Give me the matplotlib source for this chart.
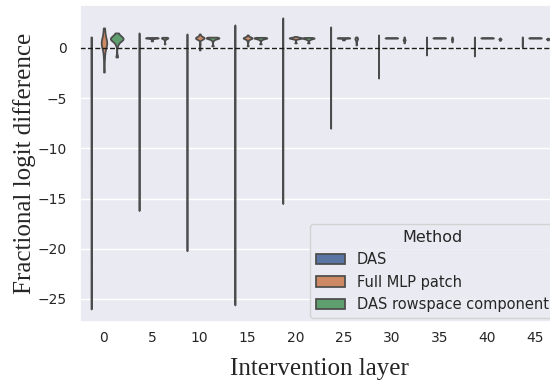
import numpy as np
import pandas as pd
import matplotlib
matplotlib.use("Agg")
import matplotlib.pyplot as plt
import seaborn as sns

layers = [0, 5, 10, 15, 20, 25, 30, 35, 40, 45]
methods = ["DAS", "Full MLP patch", "DAS rowspace component"]

# samples per layer
das = [
    [1.1, 0.8, 0.3, -1.5, -4.0, -8.0, -12.5, -17.0, -21.5, -26.0],
    [1.5, 1.0, 0.2, -1.5, -4.0, -7.0, -10.0, -13.0, -16.2],
    [1.4, 0.9, 0.0, -2.5, -6.0, -10.0, -14.0, -17.5, -20.2],
    [2.3, 1.2, 0.0, -3.0, -8.0, -13.0, -18.0, -22.0, -25.6],
    [3.0, 1.5, 0.0, -2.5, -5.5, -9.0, -12.5, -15.5],
    [2.1, 1.2, 0.2, -1.5, -3.5, -6.0, -8.0],
    [1.3, 0.9, 0.3, -0.5, -1.5, -2.3, -3.0],
    [1.1, 0.8, 0.4, 0.0, -0.4, -0.7],
    [1.1, 0.8, 0.4, 0.0, -0.4, -0.8],
    [1.1, 0.9, 0.6, 0.4, 0.1],
]
mlp = [
    [-2.4, -1.0, -0.3, 0.1, 0.3, 0.4, 0.5, 0.6, 0.8, 1.0, 1.4, 2.0],
    [0.7, 0.9, 0.96, 0.98, 0.99, 1.0, 1.0, 1.0, 1.01, 1.02, 1.03, 1.05],
    [-0.2, 0.4, 0.95, 0.97, 0.98, 0.99, 1.0, 1.0, 1.01, 1.02, 1.03, 1.05, 1.4],
    [0.2, 0.7, 0.95, 0.97, 0.99, 1.0, 1.0, 1.01, 1.02, 1.04, 1.3],
    [0.5, 0.9, 0.96, 0.98, 0.99, 1.0, 1.0, 1.01, 1.02, 1.04, 1.15],
    [0.8, 0.96, 0.98, 0.99, 1.0, 1.0, 1.01, 1.02, 1.04],
    [0.97, 0.98, 0.99, 1.0, 1.0, 1.01, 1.02, 1.03],
    [0.98, 0.99, 1.0, 1.0, 1.0, 1.01, 1.02],
    [0.98, 0.99, 1.0, 1.0, 1.0, 1.01, 1.02],
    [0.98, 0.99, 1.0, 1.0, 1.0, 1.01, 1.02],
]
row = [
    [-0.9, 0.35, 0.65, 0.78, 0.85, 0.9, 0.93, 0.97, 1.02, 1.1, 1.25, 1.5],
    [0.4, 0.8, 0.93, 0.96, 0.98, 0.99, 1.0, 1.01, 1.02, 1.04, 1.07],
    [0.2, 0.75, 0.93, 0.96, 0.98, 0.99, 1.0, 1.01, 1.03, 1.05, 1.08],
    [0.4, 0.8, 0.94, 0.97, 0.98, 0.99, 1.0, 1.01, 1.03, 1.06],
    [0.5, 0.8, 0.9, 0.94, 0.96, 0.98, 0.99, 1.0, 1.02, 1.05],
    [0.3, 0.6, 0.8, 0.88, 0.92, 0.95, 1.0, 1.1],
    [0.5, 0.7, 0.78, 0.8, 0.83, 0.86, 1.1],
    [0.6, 0.85, 0.88, 0.9, 0.92, 1.1],
    [0.75, 0.86, 0.88, 0.9, 0.91, 1.0],
    [0.8, 0.87, 0.89, 0.9, 0.92, 0.98],
]

recs = []
for name, vals in zip(methods, [das, mlp, row]):
    for l, v in zip(layers, vals):
        for y in v:
            recs.append((l, name, y))
df = pd.DataFrame(recs, columns=["layer", "Method", "value"])

sns.set_theme(style="darkgrid")
fig = plt.figure(figsize=(5.5, 3.86), dpi=100)
ax = fig.add_axes([80/550, 64/386, 479/550, 317/386])

# one call per layer so each layer is scaled on its own
for i, l in enumerate(layers):
    sns.violinplot(data=df[df.layer == l], x="layer", y="value", hue="Method",
                   order=layers, hue_order=methods, inner=None, cut=0,
                   bw_adjust=0.6, common_norm=True, ax=ax, legend=(i == 0))

ax.axhline(0, color="k", ls="--", lw=1)
ax.set_ylim(-27.3, 4.28)
ax.set_xlim(-0.5, 9.5)
ax.tick_params(labelsize=10)
ax.tick_params(axis="x", pad=0.5)
ax.set_xlabel("Intervention layer", family="Liberation Serif", fontsize=18, labelpad=9)
ax.set_ylabel("Fractional logit difference", family="Liberation Serif", fontsize=18, labelpad=1)
sns.move_legend(ax, "lower right", title="Method", fontsize=10.5, title_fontsize=11.5,
                borderaxespad=0.3)

fig.savefig("out.png")
